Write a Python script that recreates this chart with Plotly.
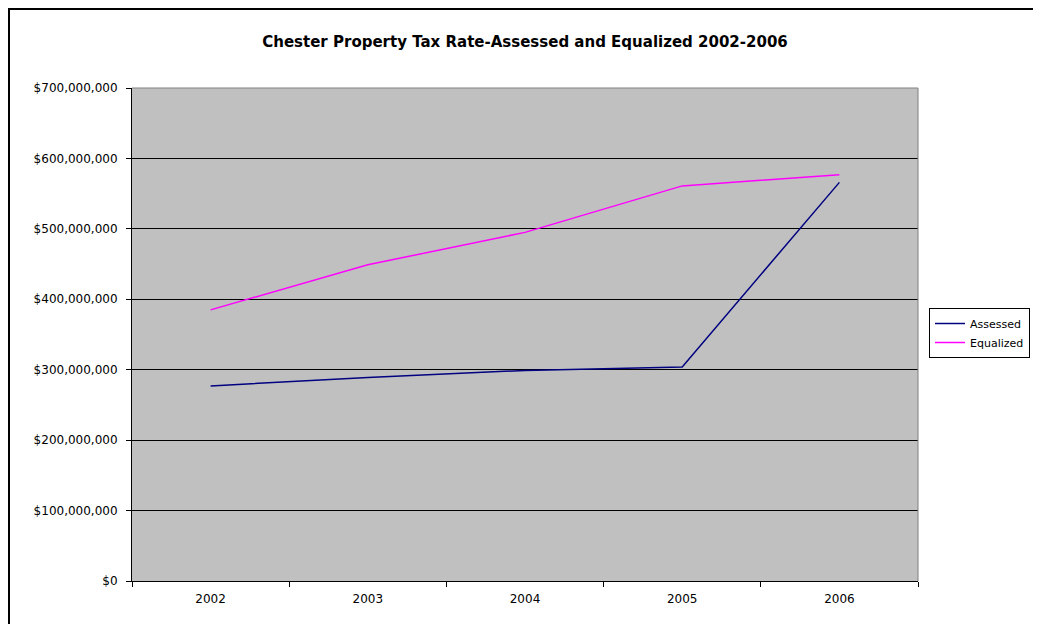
import plotly.graph_objects as go

years = ["2002", "2003", "2004", "2005", "2006"]
assessed = [277_000_000, 289_000_000, 299_000_000, 304_000_000, 566_000_000]
equalized = [385_000_000, 449_000_000, 495_000_000, 561_000_000, 577_000_000]
y_ticks = [0, 100_000_000, 200_000_000, 300_000_000, 400_000_000, 500_000_000, 600_000_000, 700_000_000]

OFF = 8  # page body margin
W, H = 1041 - OFF, 624 - OFF
L, R, T, B = 132 - OFF, 918 - OFF, 88 - OFF, 581 - OFF
pw, ph = R - L, B - T

def px(x):
    return (x - L) / pw

def py(y):
    return (B - y) / ph

fig = go.Figure()
fig.add_trace(go.Scatter(x=years, y=assessed, mode="lines", name="Assessed",
                         line=dict(color="#000080", width=1.5)))
fig.add_trace(go.Scatter(x=years, y=equalized, mode="lines", name="Equalized",
                         line=dict(color="#FF00FF", width=1.5)))

font = "DejaVu Sans, Verdana, sans-serif"
fig.update_layout(
    width=W, height=H,
    margin=dict(l=L, r=W - R, t=T, b=H - B, autoexpand=False),
    paper_bgcolor="white",
    plot_bgcolor="#C0C0C0",
    title=dict(text="<b>Chester Property Tax Rate-Assessed and Equalized 2002-2006</b>",
               x=0.5, xref="paper", xanchor="center", y=1 - (42 - OFF) / H, yanchor="middle",
               font=dict(family=font, size=15, color="black")),
    font=dict(family=font, size=12, color="black"),
    showlegend=True,
    legend=dict(x=px(929 - OFF), y=py(333 - OFF), xanchor="left", yanchor="middle",
                bgcolor="white", bordercolor="black", borderwidth=1,
                font=dict(family=font, size=11, color="black"),
                tracegroupgap=0, itemwidth=30),
    xaxis=dict(type="category", range=[-0.5, 4.5], showgrid=False,
               showline=True, linecolor="black", linewidth=1,
               ticks="outside", tickson="boundaries", ticklen=5, tickcolor="black",
               ticklabelstandoff=7,
               tickfont=dict(family=font, size=12, color="black"), zeroline=False),
    yaxis=dict(range=[0, 700_000_000], tickvals=y_ticks, tickformat="$,.0f",
               showgrid=True, gridcolor="black", gridwidth=1,
               showline=True, linecolor="black", linewidth=1,
               ticks="outside", ticklen=5, tickcolor="black",
               ticklabelstandoff=6,
               tickfont=dict(family=font, size=12, color="black"), zeroline=False),
    shapes=[
        dict(type="line", xref="paper", yref="paper", x0=0, x1=1, y0=1, y1=1,
             line=dict(color="#808080", width=1)),
        dict(type="line", xref="paper", yref="paper", x0=1, x1=1, y0=0, y1=1,
             line=dict(color="#808080", width=1)),
        dict(type="rect", xref="paper", yref="paper",
             x0=px(0.5), x1=px(W + 20), y0=py(H + 20), y1=py(0.5),
             line=dict(color="black", width=3), layer="above"),
    ],
)

fig.write_html("out.html")
